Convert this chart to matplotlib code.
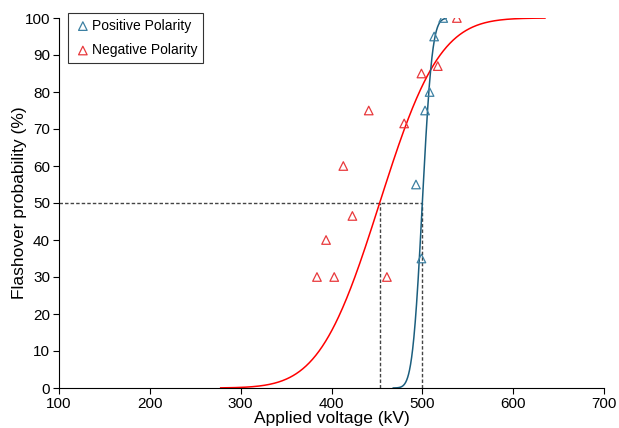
import math
import numpy as np
import matplotlib
matplotlib.use("Agg")
import matplotlib.pyplot as plt

plt.rcParams['font.family'] = ['Liberation Sans', 'DejaVu Sans']

# Measured data
pos_voltage = [523, 513, 508, 503, 493, 499]
pos_prob = [100, 95, 80, 75, 55, 35]
neg_voltage = [538, 517, 499, 480, 441, 413, 423, 394, 384, 403, 461]
neg_prob = [100, 87, 85, 71.5, 75, 60, 46.5, 40, 30, 30, 30]

# Fitted normal CDF parameters (U50, sigma) and plotted ranges
pos_u50, pos_sigma = 500, 8.5
neg_u50, neg_sigma = 453, 52
pos_range = (468, 526)
neg_range = (278, 635)

def cdf(x, mu, s):
    return np.array([50 * (1 + math.erf((v - mu) / (s * math.sqrt(2)))) for v in x])

fig = plt.figure(figsize=(6.19, 4.28), dpi=100)
ax = fig.add_axes([59/619, 1 - 388/428, (604-59)/619, (388-18)/428])

blue_line = '#1b5e7e'
blue_mk = '#3c80a2'
red = '#ff0000'
red_mk = '#e8393c'

xn = np.linspace(*neg_range, 400)
ax.plot(xn, cdf(xn, neg_u50, neg_sigma), color=red, lw=1.1, zorder=2)
xp = np.linspace(*pos_range, 400)
ax.plot(xp, cdf(xp, pos_u50, pos_sigma), color=blue_line, lw=1.1, zorder=2)

# 50% guide lines
guide = dict(color='#444444', lw=1.0, ls=(0, (2.5, 1.5)), zorder=1)
ax.plot([100, pos_u50], [50, 50], **guide)
ax.plot([neg_u50, neg_u50], [0, 50], **guide)
ax.plot([pos_u50, pos_u50], [0, 50], **guide)

ax.scatter(pos_voltage, pos_prob, marker='^', facecolors='none', edgecolors=blue_mk,
           s=38, linewidths=0.9, label='Positive Polarity', zorder=3)
ax.scatter(neg_voltage, neg_prob, marker='^', facecolors='none', edgecolors=red_mk,
           s=38, linewidths=0.9, label='Negative Polarity', zorder=3)

ax.set_xlim(100, 700)
ax.set_ylim(0, 100)
ax.set_xticks(range(100, 701, 100))
ax.set_yticks(range(0, 101, 10))
ax.spines['top'].set_visible(False)
ax.spines['right'].set_visible(False)
ax.tick_params(labelsize=11, direction='out', length=4, pad=2.5)
ax.set_xlabel('Applied voltage (kV)', fontsize=12.5, labelpad=0)
ax.set_ylabel('Flashover probability (%)', fontsize=12.5, labelpad=-2)

leg = ax.legend(loc='upper left', bbox_to_anchor=(0.017, 1.013), frameon=True, fancybox=False,
                edgecolor='black', fontsize=10, handletextpad=0.0, handlelength=1.3,
                borderpad=0.4, labelspacing=0.75, borderaxespad=0)
leg.get_frame().set_linewidth(0.8)

fig.savefig('out.png', dpi=100)
